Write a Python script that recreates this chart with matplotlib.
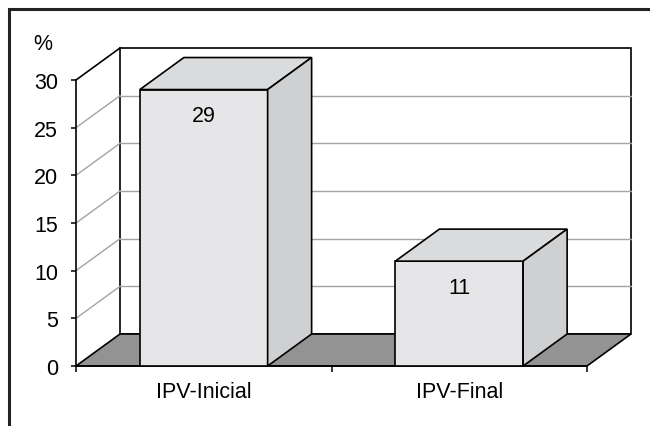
import matplotlib
matplotlib.use("Agg")
import matplotlib.pyplot as plt
from matplotlib.patches import Polygon, Rectangle

# ---- data ----
categories = ['IPV-Inicial', 'IPV-Final']
values = [29, 11]
yticks = [0, 5, 10, 15, 20, 25, 30]
ymax = 30
unit_label = '%'

plt.rcParams['font.family'] = ['Liberation Sans', 'DejaVu Sans']
FS = 15.5

fig = plt.figure(figsize=(6.5, 4.27), dpi=100)
ax = fig.add_axes([76/650, 60/427, 555/650, 318/427])

DX, DY = 0.1722, 3.357          # depth offset for pseudo-3D
x0, x1 = -0.5, len(categories) - 0.5
ax.set_xlim(x0, x1 + DX)
ax.set_ylim(0, ymax + DY)
ax.patch.set_visible(False)

grid_c = '#a3a3a3'
edge_lw = 1.2

# back wall
ax.add_patch(Rectangle((x0 + DX, DY), x1 - x0, ymax, facecolor='white',
                       edgecolor='black', lw=edge_lw, zorder=0.5, clip_on=False))
# grid lines on back wall and side wall
for t in yticks[1:-1]:
    ax.plot([x0 + DX, x1 + DX], [t + DY, t + DY], color=grid_c, lw=1.0, zorder=1, clip_on=False)
    ax.plot([x0, x0 + DX], [t, t + DY], color=grid_c, lw=1.0, zorder=1, clip_on=False)
# side wall top edge
ax.plot([x0, x0 + DX], [ymax, ymax + DY], color='black', lw=edge_lw, zorder=2, clip_on=False)
# floor
ax.add_patch(Polygon([(x0, 0), (x1, 0), (x1 + DX, DY), (x0 + DX, DY)], closed=True,
                     facecolor='#939393', edgecolor='black', lw=edge_lw, zorder=2, clip_on=False))

# bars
xs = list(range(len(categories)))
w = 0.5
ax.bar(xs, values, width=w, color='#e6e6e8', edgecolor='black', lw=edge_lw, zorder=3)
for x, v in zip(xs, values):
    l, r = x - w/2, x + w/2
    ax.add_patch(Polygon([(l, v), (r, v), (r + DX, v + DY), (l + DX, v + DY)], closed=True,
                         facecolor='#dadbdd', edgecolor='black', lw=edge_lw, zorder=3, clip_on=False))
    ax.add_patch(Polygon([(r, 0), (r + DX, DY), (r + DX, v + DY), (r, v)], closed=True,
                         facecolor='#cfd0d2', edgecolor='black', lw=edge_lw, zorder=3, clip_on=False))
    ax.annotate(str(v), (x, v), xytext=(0, -19), textcoords='offset points',
                ha='center', va='center', fontsize=FS, zorder=4)

# axes / ticks
for s in ['top', 'right']:
    ax.spines[s].set_visible(False)
ax.spines['left'].set_bounds(0, ymax)
ax.spines['bottom'].set_bounds(x0, x1)
for s in ['left', 'bottom']:
    ax.spines[s].set_linewidth(edge_lw)
ax.set_yticks(yticks)
ax.tick_params(axis='y', direction='out', length=3.5, width=1.1, pad=9.5, labelsize=FS)
ax.set_xticks([x0 + i for i in range(len(categories) + 1)])
ax.set_xticklabels([])
ax.set_xticks(xs, minor=True)
ax.set_xticklabels(categories, minor=True)
ax.tick_params(axis='x', which='major', direction='out', length=4.5, width=1.1)
ax.tick_params(axis='x', which='minor', length=0, pad=11, labelsize=FS)

fig.text(43/650, 1 - 45/427, unit_label, ha='center', va='center', fontsize=FS)

# outer frame
fig.add_artist(Rectangle((8.5/650, -0.05), 1.1, (427 - 9.5)/427 + 0.05,
                         transform=fig.transFigure, fill=False, lw=2.2, edgecolor='#222222'))

fig.savefig('out.png', dpi=100)
